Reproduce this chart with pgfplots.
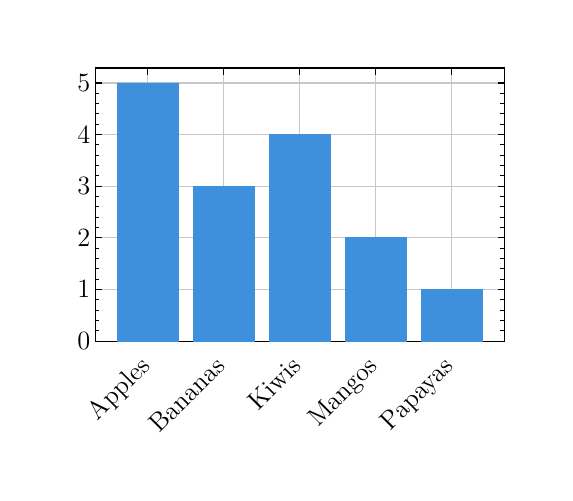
\documentclass[border=0pt]{standalone}
\usepackage{pgfplots}
\pgfplotsset{compat=1.18}
\definecolor{barblue}{RGB}{62,144,220}
\begin{document}
\begin{tikzpicture}
\useasboundingbox (0,0) rectangle (260.4pt,227.3pt);
\begin{axis}[
  at={(43.2pt,72.3pt)}, anchor=south west,
  scale only axis, width=185.9pt, height=124.1pt,
  xmin=-0.69, xmax=4.69, ymin=0, ymax=5.29,
  xtick={0,1,2,3,4},
  xticklabels={Apples,Bananas,Kiwis,Mangos,Papayas},
  yticklabel style={font=\fontsize{13}{15}\selectfont, inner sep=2pt},
  xticklabel style={font=\fontsize{11.8}{14}\selectfont, xshift=-4.3pt, yshift=-4.4pt, rotate=45, anchor=north east, inner sep=1pt},
  ytick={0,1,2,3,4,5},
  minor y tick num=4,
  tick align=inside,
  major tick length=3pt, minor tick length=1.8pt,
  xmajorgrids, ymajorgrids,
  grid style={color=black!22, line width=0.5pt},
  axis line style={line width=0.5pt},
  tick style={black, line width=0.5pt},
]
\addplot[ybar, bar width=0.8, fill=barblue, draw=barblue] coordinates {(0,5) (1,3) (2,4) (3,2) (4,1)};
\end{axis}
\end{tikzpicture}
\end{document}
